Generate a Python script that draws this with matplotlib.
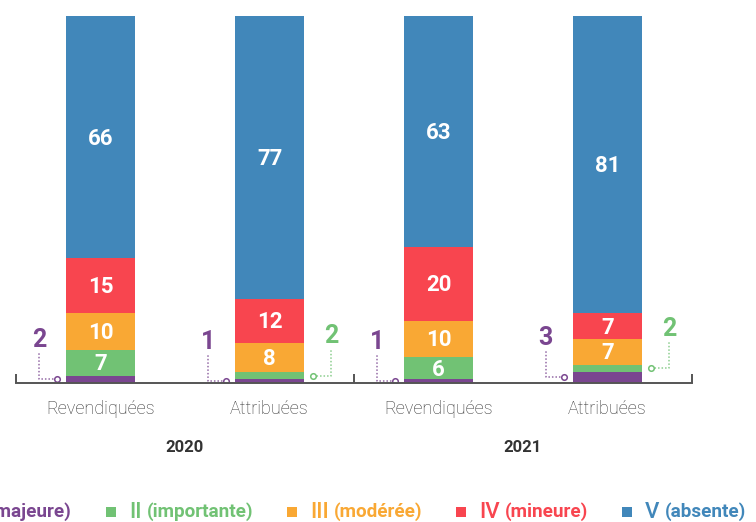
import matplotlib
matplotlib.use("Agg")
import matplotlib.pyplot as plt
from matplotlib.patches import Rectangle
from matplotlib.transforms import blended_transform_factory

plt.rcParams['font.family'] = ['Roboto', 'DejaVu Sans']

# data
categories = ['Revendiquées', 'Attribuées', 'Revendiquées', 'Attribuées']
years = ['2020', '2021']
numerals = ['I', 'II', 'III', 'IV', 'V']
levels = ['(majeure)', '(importante)', '(modérée)', '(mineure)', '(absente)']
majeure = [2, 1, 1, 3]
importante = [7, 2, 6, 2]
moderee = [10, 8, 10, 7]
mineure = [15, 12, 20, 7]
absente = [66, 77, 63, 81]

series = [majeure, importante, moderee, mineure, absente]
colors = ['#7A4690', '#71C274', '#F9A834', '#F8454F', '#4187BA']

W, H = 756, 522
fig = plt.figure(figsize=(W / 100, H / 100), dpi=100)
ax = fig.add_axes([16 / W, (H - 383) / H, 676 / W, 367 / H])

x = list(range(len(categories)))
width = 0.41
bottoms = [0] * len(x)
for vals, col in zip(series, colors):
    ax.bar(x, vals, width=width, bottom=bottoms, color=col, linewidth=0)
    bottoms = [b + v for b, v in zip(bottoms, vals)]

# labels inside / outside the segments
bottoms = [0] * len(x)
for k, (vals, col) in enumerate(zip(series, colors)):
    for i, v in enumerate(vals):
        mid = bottoms[i] + v / 2
        if v > 3:
            ax.text(i, mid - 0.4, str(v), ha='center', va='center',
                    color='white', fontsize=16, fontweight='bold')
        else:
            side = -1 if k == 0 else 1
            edge = i + side * width / 2
            cx = edge + side * 0.053
            lx = edge + side * 0.16
            top = mid + 7.2
            ax.plot([cx, lx, lx], [mid, mid, top], color=col, lw=1.1,
                    ls=(0, (1, 1.3)), alpha=0.8)
            ax.plot([cx], [mid], marker='o', ms=4, mfc='white', mec=col,
                    mew=1.1)
            ax.text(lx, top + 1.6, str(v), ha='center', va='baseline',
                    color=col, fontsize=18, fontweight='bold')
    bottoms = [b + v for b, v in zip(bottoms, vals)]

ax.set_xlim(-0.5, 3.5)
ax.set_ylim(0, 100)
for s in ['left', 'top', 'right']:
    ax.spines[s].set_visible(False)
ax.spines['bottom'].set_color('#555555')
ax.spines['bottom'].set_linewidth(1.4)
ax.set_yticks([])
ax.set_xticks([-0.5, 1.5, 3.5])
ax.set_xticklabels([])
ax.tick_params(axis='x', direction='in', length=6.5, width=1.4, color='#555555')

tr = blended_transform_factory(ax.transData, ax.transAxes)
for i, c in enumerate(categories):
    ax.text(i, -0.07, c, transform=tr, ha='center', va='center',
            fontsize=13, fontweight='light', color='#333333')
for j, yr in enumerate(years):
    ax.text(2 * j + 0.5, -0.176, yr, transform=tr, ha='center', va='center',
            fontsize=12, fontweight='bold', color='#333333')

# legend, built by hand so numerals and names can differ in size
fig.canvas.draw()
r = fig.canvas.get_renderer()
ly = (H - 512) / H


def text_w(t):
    return t.get_window_extent(r).width


items = []
for num, lev, col in zip(numerals, levels, colors):
    t1 = fig.text(0, ly, num, fontsize=16, fontweight='medium', color=col,
                  va='center')
    t2 = fig.text(0, ly, lev, fontsize=13.6, fontweight='bold', color=col,
                  va='center')
    items.append((t1, t2, col))

sq, gap1, gap2, gap3 = 10, 13, 5, 34
# place the first item so that its text ends at x=72 px
t1, t2, col = items[0]
start = 72 - text_w(t2) - gap2 - text_w(t1) - gap1 - sq
xp = start
for t1, t2, col in items:
    fig.patches.append(Rectangle((xp / W, (H - 517) / H), sq / W, sq / H,
                                 transform=fig.transFigure, color=col,
                                 linewidth=0))
    xp += sq + gap1
    t1.set_x(xp / W)
    xp += text_w(t1) + gap2
    t2.set_x(xp / W)
    xp += text_w(t2) + gap3

fig.savefig('out.png', dpi=100)
